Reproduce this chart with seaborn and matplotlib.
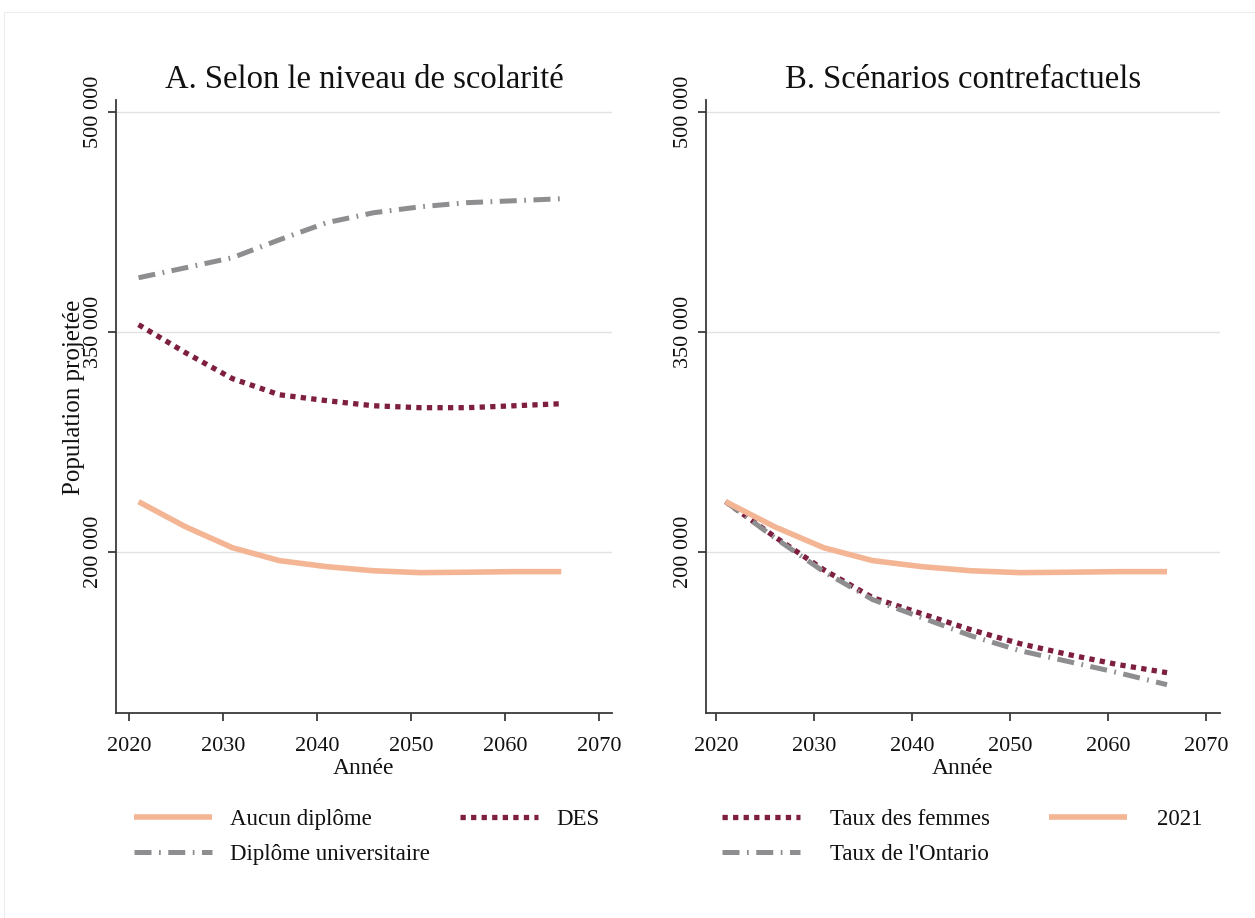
import matplotlib
matplotlib.use("Agg")
import matplotlib.pyplot as plt
import matplotlib.patches as mpatches
import seaborn as sns
import pandas as pd

# Projection years (every five years)
years = [2021, 2026, 2031, 2036, 2041, 2046, 2051, 2056, 2061, 2066]

# Panel A: projected population by education level
aucun_diplome = [234100, 217000, 202700, 193900, 189800, 187000, 185700, 186000, 186400, 186400]
des = [354800, 335700, 318000, 307000, 303000, 299500, 298200, 298200, 299500, 300900]
diplome_univ = [386800, 393600, 400500, 412700, 424300, 431100, 435200, 438000, 439300, 440700]

# Panel B: counterfactual scenarios
taux_femmes = [234100, 210200, 187700, 168600, 157700, 146800, 137300, 129800, 123000, 117500]
taux_ontario = [234100, 209500, 186400, 167300, 155000, 142700, 132500, 125000, 117500, 109300]
taux_2021 = aucun_diplome

y_ticks = [200000, 350000, 500000]
y_tick_labels = ["200 000", "350 000", "500 000"]
x_ticks = [2020, 2030, 2040, 2050, 2060, 2070]

sns.set_theme(style="white")
plt.rcParams["font.family"] = ["Liberation Serif", "DejaVu Serif"]

ORANGE = "#F3B593"
MAROON = "#7E1E40"
GRAY = "#8E8E90"

styles = {
    "Aucun diplôme": dict(color=ORANGE, lw=4.0, dashes=()),
    "2021": dict(color=ORANGE, lw=4.0, dashes=()),
    "DES": dict(color=MAROON, lw=3.8, dashes=(1.0, 1.0)),
    "Taux des femmes": dict(color=MAROON, lw=3.8, dashes=(1.0, 1.0)),
    "Diplôme universitaire": dict(color=GRAY, lw=3.6, dashes=(3.4, 1.5, 0.35, 1.5)),
    "Taux de l'Ontario": dict(color=GRAY, lw=3.6, dashes=(3.4, 1.5, 0.35, 1.5)),
}

panel_a = {"Aucun diplôme": aucun_diplome, "DES": des, "Diplôme universitaire": diplome_univ}
panel_b = {"Taux des femmes": taux_femmes, "Taux de l'Ontario": taux_ontario, "2021": taux_2021}


def long_frame(series):
    rows = []
    for name, vals in series.items():
        for yr, v in zip(years, vals):
            rows.append({"Année": yr, "Population": v, "Série": name})
    return pd.DataFrame(rows)


fig = plt.figure(figsize=(12.55, 9.18), dpi=100)
W, H = 1255, 918
fig.patches.append(mpatches.Rectangle((4 / W, 0), 1, 1 - 12 / H, transform=fig.transFigure,
                                      fill=False, edgecolor="#EDEDED", lw=0.8))

ax_a = fig.add_axes([116 / W, 1 - 713 / H, 496 / W, 613 / H])
ax_b = fig.add_axes([706 / W, 1 - 713 / H, 514 / W, 613 / H])

AXIS_COLOR = "#3A3A3A"
TEXT_COLOR = "#111111"


def draw_panel(ax, series, title, xlim):
    df = long_frame(series)
    for name in series:
        st = styles[name]
        sub = df[df["Série"] == name]
        sns.lineplot(data=sub, x="Année", y="Population", ax=ax, color=st["color"],
                     linewidth=st["lw"], label=name, legend=False)
        line = ax.lines[-1]
        if st["dashes"]:
            line.set_dashes(st["dashes"])
            line.set_dash_capstyle("butt")
        else:
            line.set_solid_capstyle("butt")
    ax.set_xlim(*xlim)
    ax.set_ylim(90000, 508000)
    ax.set_yticks(y_ticks)
    ax.set_yticklabels(y_tick_labels)
    ax.set_xticks(x_ticks)
    ax.set_xticklabels([str(x) for x in x_ticks])
    ax.grid(axis="y", color="#E2E2E2", lw=1.0)
    ax.grid(axis="x", visible=False)
    ax.set_axisbelow(True)
    for side in ("top", "right"):
        ax.spines[side].set_visible(False)
    for side in ("left", "bottom"):
        ax.spines[side].set_color(AXIS_COLOR)
        ax.spines[side].set_linewidth(1.3)
    ax.tick_params(axis="both", which="major", direction="out", length=6, width=1.3,
                   color=AXIS_COLOR, labelsize=16, labelcolor=TEXT_COLOR, left=True, bottom=True)
    ax.tick_params(axis="y", labelrotation=90, pad=3)
    ax.tick_params(axis="x", pad=11)
    for lab in ax.get_yticklabels():
        lab.set_verticalalignment("center")
    ax.set_xlabel("Année", fontsize=17, color=TEXT_COLOR, labelpad=2)
    ax.set_ylabel("")
    ax.set_title(title, fontsize=23.5, color=TEXT_COLOR, pad=9)
    return {l.get_label(): l for l in ax.lines}


h_a = draw_panel(ax_a, panel_a, "A. Selon le niveau de scolarité", (2018.6, 2071.4))
h_b = draw_panel(ax_b, panel_b, "B. Scénarios contrefactuels", (2019.0, 2071.4))

ax_a.set_ylabel("Population projetée", fontsize=18, color=TEXT_COLOR)
ax_a.yaxis.set_label_coords(-0.063, 0.515)


def add_legend(handles, order, anchor, colspacing, textpad):
    leg = fig.legend([handles[k] for k in order], order, loc="upper left",
                     bbox_to_anchor=anchor, bbox_transform=fig.transFigure, ncol=2,
                     frameon=False, fontsize=16.5, handlelength=3.4, handletextpad=textpad,
                     columnspacing=colspacing, labelspacing=0.6, borderaxespad=0, borderpad=0)
    for t in leg.get_texts():
        t.set_color(TEXT_COLOR)
    return leg


add_legend(h_a, ["Aucun diplôme", "Diplôme universitaire", "DES"], (134 / W, 1 - 809 / H), 1.3, 0.8)
add_legend(h_b, ["Taux des femmes", "Taux de l'Ontario", "2021"], (722 / W, 1 - 809 / H), 2.6, 1.3)

fig.savefig("out.png", dpi=100, facecolor="white")
